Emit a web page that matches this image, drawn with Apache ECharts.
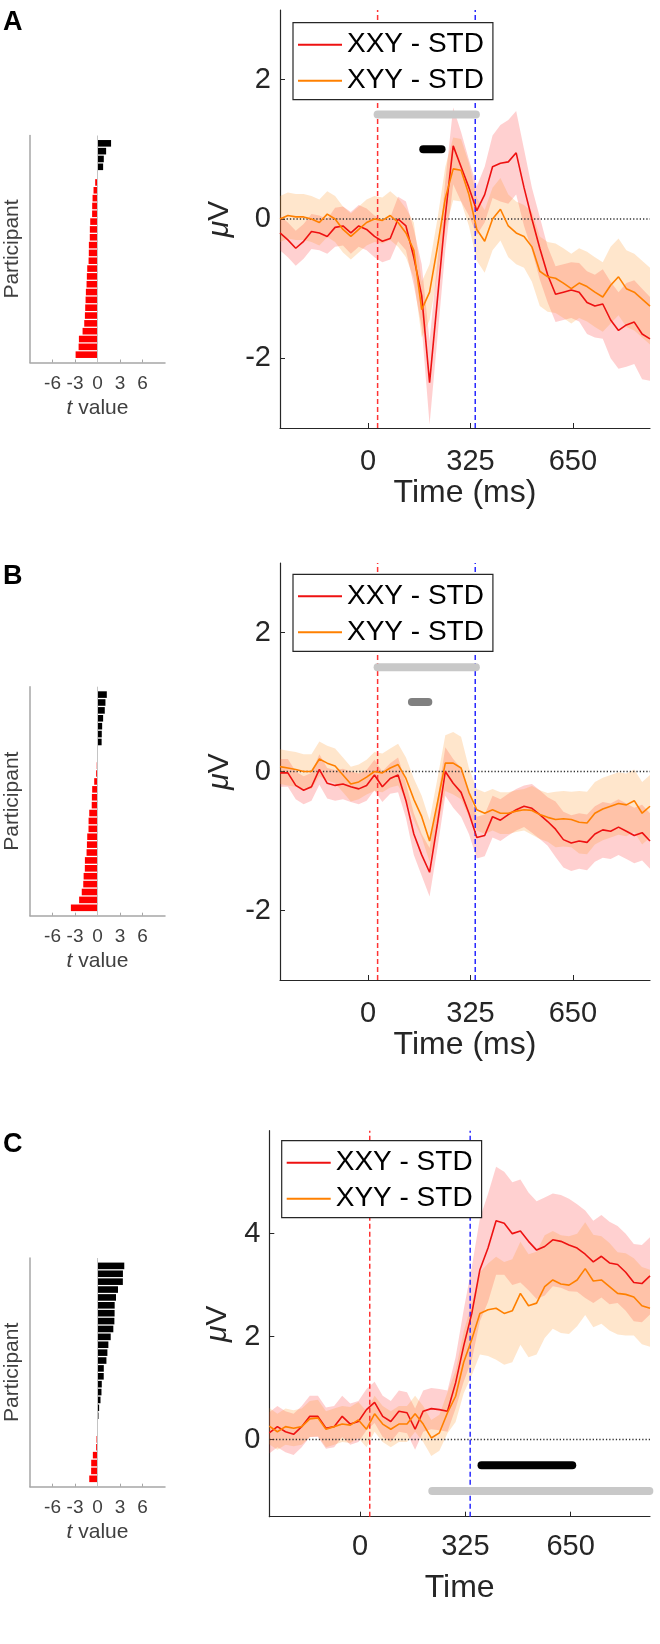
<!DOCTYPE html>
<html><head><meta charset="utf-8">
<script src="https://cdn.jsdelivr.net/npm/echarts@6/dist/echarts.min.js"></script>
<style>html,body{margin:0;padding:0;background:#fff}#c{width:660px;height:1644px}</style>
</head><body><div id="c"></div>
<script>
// ---------- DATA ----------
const time = [-280,-255,-230,-205,-180,-155,-130,-105,-80,-55,-30,-5,20,45,70,95,120,145,170,195,220,245,270,295,320,345,370,395,420,445,470,495,520,545,570,595,620,645,670,695,720,745,770,795,820,845,870,895];
const seriesNames = ['XXY - STD', 'XYY - STD'];
const timeTicks = [0, 325, 650];
const tTicks = [-6, -3, 0, 3, 6];
const stimOnsets = [30, 340];

// Panel A
const A_xxy = [-0.2,-0.3,-0.42,-0.32,-0.18,-0.2,-0.25,-0.12,-0.1,-0.2,-0.1,-0.15,-0.25,-0.32,-0.28,0.0,-0.1,-0.55,-1.1,-2.35,-1.15,0.05,1.05,0.75,0.45,0.12,0.35,0.75,0.8,0.82,0.95,0.45,0.0,-0.42,-0.8,-1.08,-1.05,-1.02,-1.05,-1.2,-1.25,-1.22,-1.45,-1.6,-1.52,-1.48,-1.65,-1.72];
const A_xyy = [0.0,0.05,0.03,0.03,0.0,-0.05,0.07,0.0,-0.15,-0.25,-0.15,-0.05,0.0,-0.02,0.05,-0.05,-0.2,-0.45,-1.3,-1.05,-0.4,0.3,0.72,0.7,0.35,-0.15,-0.32,0.0,0.14,-0.1,-0.2,-0.25,-0.4,-0.75,-0.83,-0.85,-0.92,-1.0,-0.92,-0.97,-1.05,-1.12,-0.95,-0.83,-1.0,-1.05,-1.15,-1.25];
const A_xxy_sem = [0.25,0.25,0.25,0.25,0.25,0.25,0.25,0.28,0.28,0.3,0.3,0.3,0.3,0.3,0.3,0.32,0.35,0.4,0.45,0.6,0.55,0.5,0.55,0.5,0.4,0.35,0.4,0.45,0.55,0.6,0.6,0.55,0.45,0.45,0.4,0.4,0.4,0.4,0.42,0.45,0.45,0.5,0.55,0.55,0.6,0.6,0.65,0.6];
const A_xyy_sem = [0.33,0.33,0.33,0.33,0.33,0.33,0.33,0.33,0.33,0.33,0.33,0.33,0.33,0.33,0.35,0.35,0.35,0.4,0.4,0.4,0.4,0.45,0.45,0.45,0.45,0.45,0.45,0.45,0.45,0.45,0.45,0.45,0.5,0.5,0.5,0.5,0.5,0.5,0.5,0.5,0.5,0.5,0.55,0.55,0.55,0.55,0.55,0.55];
const A_t = [1.81,1.15,0.84,0.75,0.03,-0.31,-0.53,-0.66,-0.71,-0.72,-0.97,-1.02,-1.03,-1.15,-1.16,-1.19,-1.37,-1.42,-1.46,-1.55,-1.59,-1.64,-1.68,-1.77,-1.99,-2.48,-2.52,-2.92];
const A_sig = [{from:30, to:342, level:1.5}, {from:175, to:233, level:1.0}];

// Panel B
const B_xxy = [-0.02,-0.02,-0.2,-0.27,-0.22,0.03,-0.17,-0.2,-0.18,-0.22,-0.25,-0.2,-0.05,-0.22,-0.1,-0.05,-0.42,-0.9,-1.2,-1.45,-0.75,0.0,-0.17,-0.3,-0.6,-0.95,-0.92,-0.65,-0.7,-0.62,-0.55,-0.5,-0.53,-0.62,-0.72,-0.83,-0.98,-1.03,-1.0,-1.02,-0.9,-0.84,-0.86,-0.8,-0.86,-0.92,-0.88,-1.0];
const B_xyy = [0.07,0.05,0.03,0.0,0.0,0.18,0.12,0.08,-0.05,-0.18,-0.15,-0.08,0.0,-0.02,0.05,0.1,-0.1,-0.4,-0.65,-1.0,-0.45,0.12,0.12,0.05,-0.3,-0.55,-0.6,-0.55,-0.6,-0.6,-0.57,-0.55,-0.56,-0.62,-0.66,-0.69,-0.68,-0.69,-0.73,-0.74,-0.6,-0.54,-0.5,-0.46,-0.48,-0.42,-0.6,-0.5];
const B_xxy_sem = [0.2,0.2,0.2,0.2,0.2,0.22,0.22,0.22,0.22,0.22,0.22,0.22,0.22,0.22,0.22,0.25,0.25,0.3,0.3,0.35,0.35,0.35,0.35,0.35,0.3,0.3,0.3,0.3,0.3,0.3,0.3,0.3,0.35,0.35,0.35,0.4,0.4,0.4,0.4,0.4,0.4,0.4,0.4,0.4,0.4,0.4,0.4,0.4];
const B_xyy_sem = [0.25,0.25,0.25,0.25,0.25,0.25,0.25,0.25,0.25,0.25,0.25,0.25,0.28,0.28,0.28,0.3,0.3,0.3,0.3,0.3,0.35,0.4,0.45,0.45,0.35,0.3,0.3,0.3,0.3,0.3,0.3,0.3,0.35,0.35,0.35,0.4,0.4,0.4,0.45,0.45,0.45,0.45,0.45,0.45,0.45,0.45,0.45,0.45];
const B_t = [1.24,1.06,0.97,0.75,0.62,0.57,0.55,0.03,-0.02,-0.1,-0.18,-0.44,-0.71,-0.75,-0.77,-1.1,-1.19,-1.2,-1.37,-1.41,-1.46,-1.68,-1.69,-1.85,-1.9,-2.1,-2.45,-3.55];
const B_sig = [{from:30, to:342, level:1.5}, {from:139, to:191, level:1.0}];

// Panel C
const C_xxy = [0.13,0.25,0.15,0.1,0.25,0.45,0.45,0.22,0.25,0.45,0.3,0.35,0.58,0.72,0.45,0.35,0.55,0.52,0.2,0.55,0.6,0.58,0.55,1.1,1.82,2.45,3.3,3.72,4.25,4.2,4.0,4.05,3.85,3.68,3.75,3.88,3.85,3.78,3.72,3.6,3.45,3.56,3.43,3.4,3.25,3.05,3.03,3.18];
const C_xyy = [0.26,0.15,0.25,0.22,0.25,0.4,0.42,0.2,0.25,0.3,0.28,0.38,0.2,0.5,0.3,0.2,0.3,0.3,0.5,0.3,0.03,0.13,0.52,0.84,1.5,1.95,2.45,2.52,2.55,2.45,2.5,2.84,2.6,2.65,2.97,3.1,3.02,3.0,3.1,3.32,3.08,3.1,2.97,2.84,2.82,2.77,2.6,2.55];
const C_xxy_sem = [0.4,0.4,0.4,0.4,0.4,0.4,0.4,0.4,0.4,0.4,0.4,0.4,0.4,0.4,0.4,0.4,0.4,0.4,0.4,0.4,0.4,0.4,0.4,0.5,0.7,0.9,1.0,1.05,1.05,1.0,1.0,1.0,0.95,0.95,0.95,0.9,0.9,0.9,0.85,0.85,0.8,0.8,0.8,0.75,0.75,0.75,0.75,0.75];
const C_xyy_sem = [0.35,0.35,0.35,0.35,0.35,0.35,0.35,0.35,0.35,0.35,0.35,0.35,0.35,0.35,0.35,0.35,0.35,0.35,0.35,0.35,0.35,0.35,0.4,0.5,0.6,0.7,0.8,0.9,1.0,1.0,1.0,1.0,1.0,1.0,1.0,0.95,0.95,0.95,0.9,0.9,0.9,0.85,0.85,0.8,0.8,0.75,0.75,0.75];
const C_t = [3.57,3.39,3.38,2.73,2.47,2.29,2.28,2.25,2.11,1.76,1.45,1.32,1.19,0.84,0.83,0.57,0.53,0.40,0.22,0.13,0.03,-0.02,-0.13,-0.18,-0.62,-0.84,-0.85,-1.10];
const C_sig = [{from:375, to:655, level:-0.5}, {from:223, to:893, level:-1.0}];

// ---------- STYLE / LAYOUT ----------
const FONT = 'Liberation Sans';
const RED = '#ee1111', ORANGE = '#ff8000';
const RED_BAND = 'rgba(255,40,40,0.22)', ORANGE_BAND = 'rgba(255,150,40,0.24)';
const DARK = '#262626', GRAY_AX = '#a6a6a6';
const slots = Array.from({length: 30}, (_, i) => String(i));

const panels = [
  { letter:'A', letterTop:9, small:{left:30, top:135.5, width:135, height:227},
    main:{left:280, top:10, width:370, height:418}, ymin:-3, ymax:3, yticks:[-2,0,2],
    xname:'Time (ms)', xnameGap:46, xlabMargin:19, ynameGap:38,
    legend:{left:293, top:22.7},
    xxy:A_xxy, xyy:A_xyy, xxySem:A_xxy_sem, xyySem:A_xyy_sem, t:A_t, sig:A_sig,
    sigColors:['#c8c8c8','#000000'] },
  { letter:'B', letterTop:563, small:{left:30, top:686.7, width:135, height:229},
    main:{left:280, top:563, width:370, height:417}, ymin:-3, ymax:3, yticks:[-2,0,2],
    xname:'Time (ms)', xnameGap:46, xlabMargin:19, ynameGap:38,
    legend:{left:293, top:574.3},
    xxy:B_xxy, xyy:B_xyy, xxySem:B_xxy_sem, xyySem:B_xyy_sem, t:B_t, sig:B_sig,
    sigColors:['#c8c8c8','#808080'] },
  { letter:'C', letterTop:1131, small:{left:30, top:1258, width:135, height:228.7},
    main:{left:269.3, top:1130.7, width:380.7, height:386}, ymin:-1.5, ymax:6, yticks:[0,2,4],
    xname:'Time', xnameGap:55, xlabMargin:16, ynameGap:37,
    legend:{left:281.7, top:1140.7},
    xxy:C_xxy, xyy:C_xyy, xxySem:C_xxy_sem, xyySem:C_xyy_sem, t:C_t, sig:C_sig,
    sigColors:['#000000','#c8c8c8'] }
];

const grid = [], xAxis = [], yAxis = [], series = [], legend = [], graphic = [];

function band(ax, mean, sem, color) {
  return {
    type:'custom', xAxisIndex:ax, yAxisIndex:ax, silent:true, z:1,
    data: time.map((t, i) => [t, mean[i] - sem[i], mean[i] + sem[i]]),
    encode:{x:0, y:[1,2]},
    renderItem: (params, api) => {
      if (params.dataIndex !== 0) return null;
      const pts = [];
      for (let i = 0; i < time.length; i++) pts.push(api.coord([time[i], mean[i] + sem[i]]));
      for (let i = time.length - 1; i >= 0; i--) pts.push(api.coord([time[i], mean[i] - sem[i]]));
      return {type:'polygon', shape:{points:pts}, style:{fill:color}};
    }
  };
}

panels.forEach((p, k) => {
  const si = 2 * k, mi = 2 * k + 1;
  grid.push(p.small, p.main);

  // small bar chart axes
  xAxis.push({
    gridIndex: si, type:'value', min:-9, max:9,
    axisLine:{show:true, onZero:false, lineStyle:{color:GRAY_AX, width:1.5}},
    axisTick:{show:true, inside:true, length:3, customValues:tTicks, lineStyle:{color:GRAY_AX}},
    axisLabel:{customValues:tTicks, fontSize:19, color:'#404040', margin:12, fontFamily:FONT},
    splitLine:{show:false},
    name:'{i|t} value', nameLocation:'middle', nameGap:35,
    nameTextStyle:{fontSize:21, color:'#404040', fontFamily:FONT, rich:{i:{fontStyle:'italic', fontSize:21, color:'#404040', fontFamily:FONT}}}
  });
  yAxis.push({
    gridIndex: si, type:'category', data:slots, inverse:true, boundaryGap:false,
    axisLine:{show:true, onZero:false, lineStyle:{color:GRAY_AX, width:1.5}},
    axisTick:{show:false}, axisLabel:{show:false}, splitLine:{show:false},
    name:'Participant', nameLocation:'middle', nameGap:7,
    nameTextStyle:{fontSize:21, color:'#404040', fontFamily:FONT}
  });

  // main chart axes
  xAxis.push({
    gridIndex: mi, type:'value', min:-280, max:895,
    axisLine:{show:true, onZero:false, lineStyle:{color:DARK, width:1.2}},
    axisTick:{show:true, inside:true, length:5, customValues:timeTicks, lineStyle:{color:DARK}},
    axisLabel:{customValues:timeTicks, fontSize:29, color:DARK, margin:p.xlabMargin, fontFamily:FONT},
    splitLine:{show:false},
    name:p.xname, nameLocation:'middle', nameGap:p.xnameGap,
    nameTextStyle:{fontSize:32, color:DARK, fontFamily:FONT}
  });
  yAxis.push({
    gridIndex: mi, type:'value', min:p.ymin, max:p.ymax,
    axisLine:{show:true, onZero:false, lineStyle:{color:DARK, width:1.2}},
    axisTick:{show:true, inside:true, length:5, customValues:p.yticks, lineStyle:{color:DARK}},
    axisLabel:{customValues:p.yticks, fontSize:29, color:DARK, margin:9, fontFamily:FONT},
    splitLine:{show:false},
    name:'{i|μ}V', nameLocation:'middle', nameGap:p.ynameGap,
    nameTextStyle:{fontSize:30, color:DARK, fontFamily:FONT, rich:{i:{fontStyle:'italic', fontSize:30, color:DARK, fontFamily:FONT}}}
  });

  // bars
  series.push({
    type:'bar', xAxisIndex:si, yAxisIndex:si, barWidth:6.6, silent:true,
    data: ['-'].concat(p.t.map(v => ({value:v, itemStyle:{color: v >= 0 ? '#000000' : '#ff0000'}}))).concat(['-']),
    markLine:{silent:true, symbol:['none','none'], label:{show:false}, animation:false,
      lineStyle:{color:'#c4c4c4', type:'solid', width:1}, data:[{xAxis:0}]}
  });

  // bands
  series.push(band(mi, p.xxy, p.xxySem, RED_BAND));
  series.push(band(mi, p.xyy, p.xyySem, ORANGE_BAND));

  // zero dotted line
  series.push({type:'line', xAxisIndex:mi, yAxisIndex:mi, silent:true, symbol:'none', z:2,
    data:[[-280,0],[895,0]], lineStyle:{color:'#333', width:1.3, type:[1.3,2]}});

  // stimulus onset lines
  stimOnsets.forEach((s, j) => {
    series.push({type:'line', xAxisIndex:mi, yAxisIndex:mi, silent:true, symbol:'none', z:2,
      data:[[s,p.ymin],[s,p.ymax]],
      lineStyle:{color: j === 0 ? '#ff3333' : '#2a2aff', width:1.5, type:[5,3]}});
  });

  // significance windows
  p.sig.forEach((w, j) => {
    series.push({type:'line', xAxisIndex:mi, yAxisIndex:mi, silent:true, symbol:'none', z:4, clip:false,
      data:[[w.from, w.level],[w.to, w.level]],
      lineStyle:{color:p.sigColors[j], width:8, cap:'round'}});
  });

  // mean lines
  series.push({name:seriesNames[0], type:'line', xAxisIndex:mi, yAxisIndex:mi, symbol:'none', z:5,
    color:RED, data: time.map((t, i) => [t, p.xxy[i]]), lineStyle:{color:RED, width:1.6}});
  series.push({name:seriesNames[1], type:'line', xAxisIndex:mi, yAxisIndex:mi, symbol:'none', z:5,
    color:ORANGE, data: time.map((t, i) => [t, p.xyy[i]]), lineStyle:{color:ORANGE, width:1.6}});

  legend.push({
    data:seriesNames, orient:'vertical', left:p.legend.left, top:p.legend.top,
    icon:'rect', itemWidth:44, itemHeight:2, itemGap:4, selectedMode:false,
    backgroundColor:'#fff', borderColor:DARK, borderWidth:1.2, padding:[6,9,3,5],
    textStyle:{fontSize:28, color:'#000', fontFamily:FONT, lineHeight:32}
  });

  graphic.push({type:'text', left:3, top:p.letterTop,
    style:{text:p.letter, font:'bold 27px "Liberation Sans"', fill:'#000'}});
});

const chart = echarts.init(document.getElementById('c'), null, {renderer:'canvas'});
chart.setOption({
  animation:false, backgroundColor:'#fff',
  textStyle:{fontFamily:FONT},
  grid, xAxis, yAxis, series, legend, graphic
});
</script></body></html>
